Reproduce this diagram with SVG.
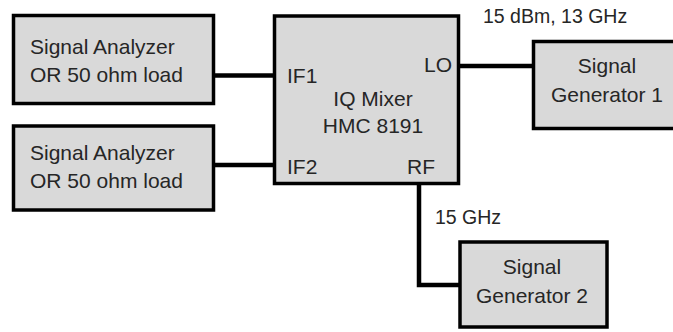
<svg xmlns="http://www.w3.org/2000/svg" width="673" height="332" viewBox="0 0 673 332">
<style>
.box{fill:#d9d9d9;stroke:#000;stroke-width:3.5}
.wire{fill:none;stroke:#000;stroke-width:4.5;stroke-linejoin:miter}
text{font-family:"Liberation Sans",Arial,sans-serif;font-size:21px;fill:#262626}
.c{text-anchor:middle}
.e{text-anchor:end}
</style>
<rect width="673" height="332" fill="#fff"/>
<g id="connectors">
<line class="wire" x1="213.5" y1="75.5" x2="274.5" y2="75.5"/>
<line class="wire" x1="213.5" y1="165" x2="274.5" y2="165"/>
<line class="wire" x1="458.5" y1="66" x2="533.5" y2="66"/>
<polyline class="wire" points="419,183.5 419,285 460,285"/>
<text x="483" y="23" style="font-size:19.5px">15 dBm, 13 GHz</text>
<text x="435" y="224" style="font-size:19.5px">15 GHz</text>
</g>
<g id="analyzer1">
<rect class="box" x="13.5" y="15.5" width="200" height="88"/>
<text x="30" y="54">Signal Analyzer</text>
<text x="30" y="82">OR 50 ohm load</text>
</g>
<g id="analyzer2">
<rect class="box" x="13.5" y="126" width="200" height="84"/>
<text x="30" y="160">Signal Analyzer</text>
<text x="30" y="188">OR 50 ohm load</text>
</g>
<g id="mixer">
<rect class="box" x="274.5" y="16" width="184" height="167.5"/>
<text x="287" y="83">IF1</text>
<text x="287" y="174">IF2</text>
<text class="e" x="452" y="72">LO</text>
<text x="407" y="174">RF</text>
<text class="c" x="373" y="106">IQ Mixer</text>
<text class="c" x="373" y="133">HMC 8191</text>
</g>
<g id="generator1">
<rect class="box" x="533.5" y="41.5" width="142" height="87"/>
<text class="c" x="607" y="73">Signal</text>
<text class="c" x="607" y="102">Generator 1</text>
</g>
<g id="generator2">
<rect class="box" x="460" y="242" width="147" height="85"/>
<text class="c" x="532" y="274">Signal</text>
<text class="c" x="532" y="303">Generator 2</text>
</g>
</svg>
